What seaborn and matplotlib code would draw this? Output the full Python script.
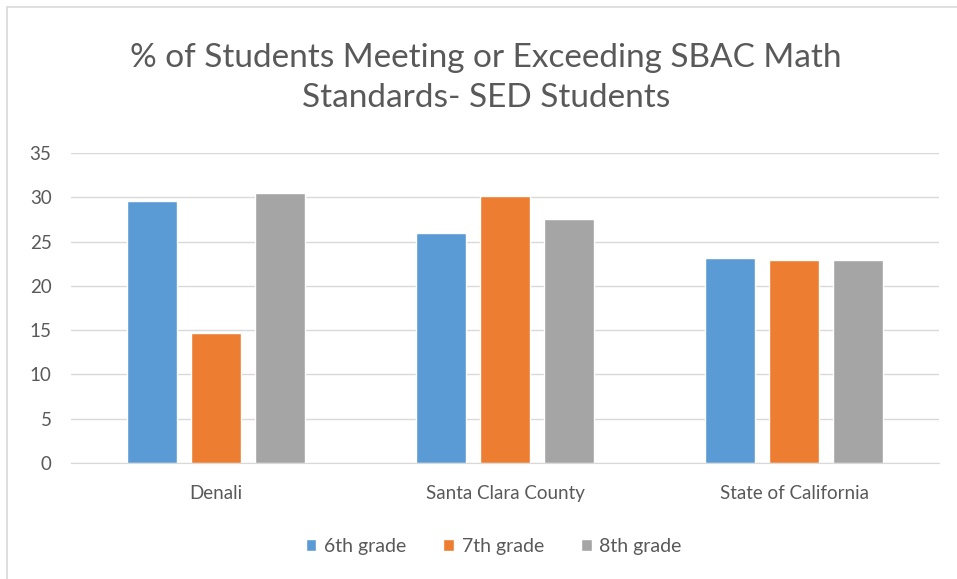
import pandas as pd
import matplotlib.pyplot as plt
import seaborn as sns
from matplotlib.patches import Rectangle

### Dados
categorias = ["Denali", "Santa Clara County", "State of California"]
series = ["6th grade", "7th grade", "8th grade"]
sexto = [29.6, 26.0, 23.1]
setimo = [14.7, 30.1, 22.9]
oitavo = [30.5, 27.6, 22.9]
cores = ["#5B9BD5", "#ED7D31", "#A5A5A5"]
titulo = "% of Students Meeting or Exceeding SBAC Math\nStandards- SED Students"

### Tabela longa
dados = pd.DataFrame({
    "Local": categorias * 3,
    "Serie": [series[0]] * 3 + [series[1]] * 3 + [series[2]] * 3,
    "Valor": sexto + setimo + oitavo,
})

sns.set_style("white")
plt.rcParams["font.family"] = ["Lato", "DejaVu Sans"]
texto = "#595959"

fig = plt.figure(figsize=(9.57, 5.79), dpi=100)
ax = fig.add_axes([71 / 957, 1 - 463 / 579, 868 / 957, 310 / 579])

sns.barplot(data=dados, x="Local", y="Valor", hue="Serie", palette=cores,
            width=0.664, gap=0.22, ax=ax, saturation=1, legend=True)

ax.set_ylim(0, 35)
ax.set_yticks(range(0, 36, 5))
ax.grid(axis="y", color="#D9D9D9", linewidth=1)
ax.set_axisbelow(True)
for lado in ["top", "right", "left"]:
    ax.spines[lado].set_visible(False)
ax.spines["bottom"].set_color("#D9D9D9")
ax.tick_params(axis="both", length=0, labelsize=13.5, colors=texto)
ax.tick_params(axis="y", pad=14)
ax.tick_params(axis="x", pad=16)
ax.set_xlabel("")
ax.set_ylabel("")

fig.text(0.508, 1 - 78 / 579, titulo, ha="center", va="center",
         fontsize=24, color=texto, linespacing=1.45)

leg = ax.legend(loc="center", bbox_to_anchor=(0.487, -0.27), ncol=3, frameon=False,
                fontsize=14, handlelength=0.55, handleheight=0.55, handletextpad=0.4,
                columnspacing=1.9)
for t in leg.get_texts():
    t.set_color(texto)

fig.patches.append(Rectangle((7 / 957, -0.05), 1.1, 1 - 7 / 579 + 0.05, transform=fig.transFigure,
                             fill=False, edgecolor="#D9D9D9", linewidth=1.2))

fig.savefig("out.png", dpi=100)
